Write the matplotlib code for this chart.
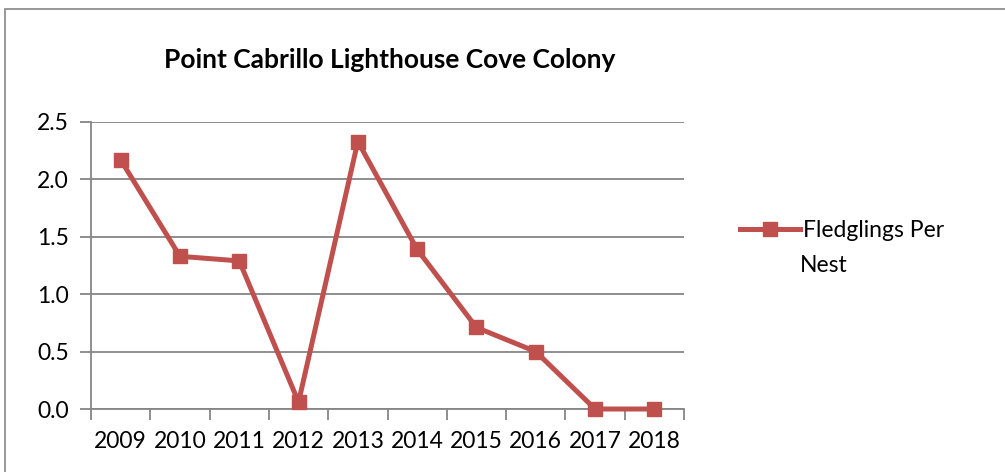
import matplotlib.pyplot as plt
from matplotlib.patches import Rectangle
from matplotlib.ticker import FixedLocator

plt.rcParams['font.family'] = ['Lato', 'DejaVu Sans']

# Fledglings per nest by year
years = ['2009', '2010', '2011', '2012', '2013', '2014', '2015', '2016', '2017', '2018']
fledglings = [2.17, 1.33, 1.29, 0.06, 2.33, 1.39, 0.71, 0.50, 0.0, 0.0]
y_ticks = [0.0, 0.5, 1.0, 1.5, 2.0, 2.5]
series_name = ['Fledglings Per', 'Nest']

red = '#C0504D'
grey = '#868686'

fig = plt.figure(figsize=(10.05, 4.72), dpi=100)
W, H = 1005, 472

# outer chart frame
fig.patches.append(Rectangle((5 / W, -0.1), 1.2, 1 - 9 / H + 0.1, transform=fig.transFigure,
                             fill=False, edgecolor=grey, linewidth=1.2))

ax = fig.add_axes([91 / W, 1 - 409 / H, (684 - 91) / W, (409 - 122) / H])
x = list(range(len(years)))
ax.plot(x, fledglings, color=red, linewidth=3.6, marker='s', markersize=10,
        label=series_name[0], solid_joinstyle='miter', clip_on=False, zorder=3)

ax.set_xlim(-0.5, len(years) - 0.5)
ax.set_ylim(0, 2.5)
ax.set_yticks(y_ticks)
ax.set_yticklabels([f'{v:.1f}' for v in y_ticks])
ax.grid(axis='y', color=grey, linewidth=1.3)
ax.set_axisbelow(True)

# category boundaries as ticks, labels in the middle
ax.xaxis.set_major_locator(FixedLocator([i - 0.5 for i in range(len(years) + 1)]))
ax.xaxis.set_minor_locator(FixedLocator(x))
ax.set_xticklabels([])
ax.set_xticklabels(years, minor=True)
ax.tick_params(axis='x', which='major', length=8, width=1.3, color=grey, direction='out')
ax.tick_params(axis='x', which='minor', length=0, labelsize=16.5, pad=16)
ax.tick_params(axis='y', length=8, width=1.3, color=grey, labelsize=16.5, pad=8)

for side in ['top', 'right']:
    ax.spines[side].set_visible(False)
for side in ['left', 'bottom']:
    ax.spines[side].set_color(grey)
    ax.spines[side].set_linewidth(1.3)

fig.text(390 / W, 1 - 60 / H, 'Point Cabrillo Lighthouse Cove Colony', ha='center', va='center',
         fontsize=19, fontweight='bold')

leg = ax.legend(loc='center left', bbox_to_anchor=(740 / W, 1 - 231 / H), bbox_transform=fig.transFigure,
                frameon=False, fontsize=16.5, handlelength=2.6, handletextpad=0.15, borderpad=0,
                borderaxespad=0)
# second line of the series name sits under the first
fig.text(800 / W, 1 - 265 / H, series_name[1], ha='left', va='center', fontsize=16.5)

fig.savefig('out.png', dpi=100)
